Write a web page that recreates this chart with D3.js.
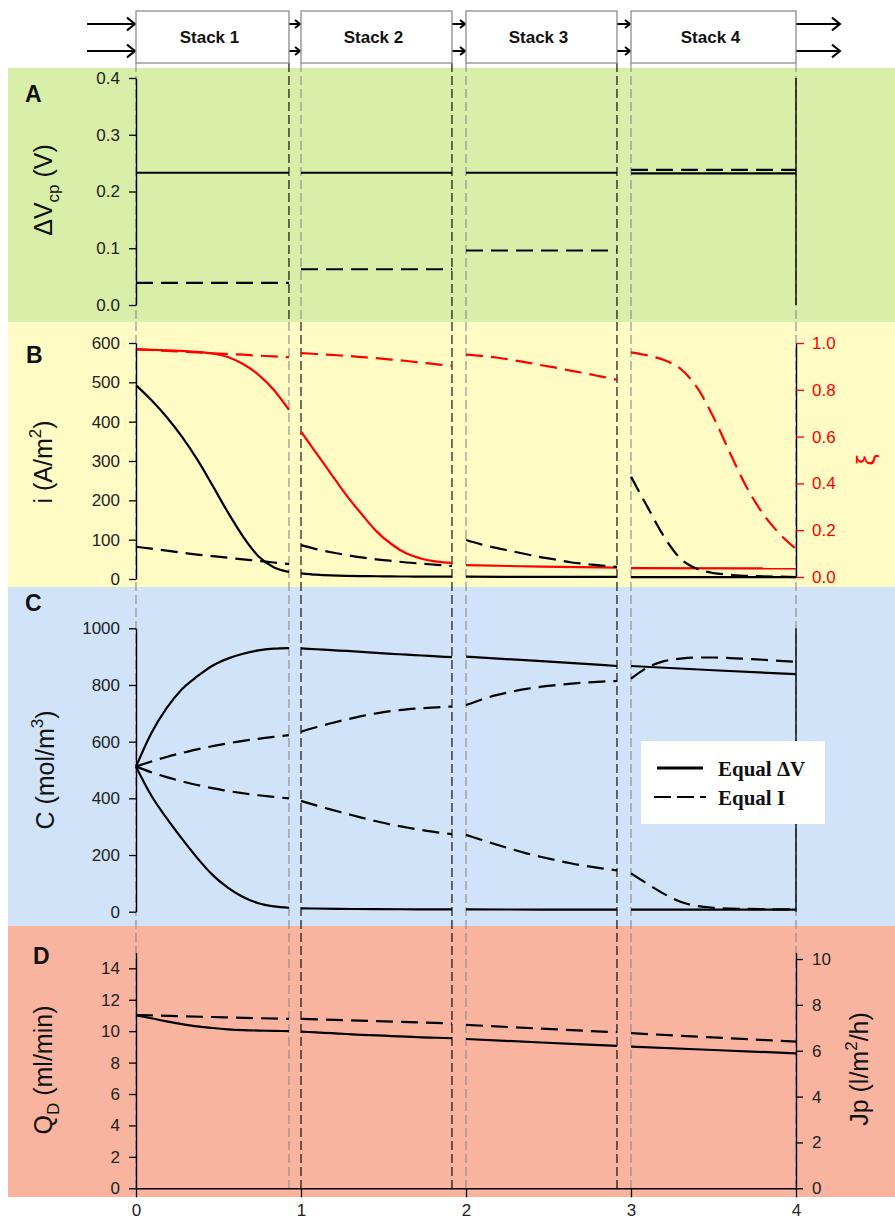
<!DOCTYPE html>
<html><head><meta charset="utf-8">
<script src="https://cdn.jsdelivr.net/npm/d3@7"></script>
<style>html,body{margin:0;padding:0;background:#fff;} svg{display:block;}</style>
</head><body>
<svg id="fig" width="895" height="1222"></svg>
<script>
// ---- stacks in series ----
const stackNames = ["Stack 1", "Stack 2", "Stack 3", "Stack 4"];
const stackStart = [0, 1, 2, 3];
const stackEnd = [0.927, 1.915, 2.915, 4.0];
const xTicks = [0, 1, 2, 3, 4];

// ---- A: cell pair voltage (V), one value per stack ----
const dvEqualDV = [0.233, 0.233, 0.233, 0.232];
const dvEqualI = [0.039, 0.063, 0.096, 0.238];
const dvTicks = [0, 0.1, 0.2, 0.3, 0.4];

// ---- B: current density (A/m2) and ξ, values evenly spaced along each stack ----
const iEqualDV = [
  [493, 455, 412, 362, 304, 238, 170, 108, 58, 30, 18],
  [14.5, 11, 9, 8, 7.5, 7, 6.5, 6.3, 6.1, 6, 6],
  [5.8, 5.5, 5.2],
  [5, 5]
];
const iEqualI = [
  [82, 77, 72, 67, 62, 58, 54, 50, 46, 42, 38],
  [86, 76, 68, 61, 55, 50, 46, 42, 39, 36, 33],
  [99, 88, 79, 71, 63, 55, 49, 42, 38, 34, 31],
  [260, 183, 108, 52, 26, 15, 11, 8, 7, 6, 5]
];
const xiEqualDV = [
  [0.973, 0.971, 0.969, 0.966, 0.962, 0.955, 0.94, 0.91, 0.865, 0.80, 0.714],
  [0.621, 0.53, 0.44, 0.35, 0.27, 0.195, 0.14, 0.10, 0.078, 0.066, 0.06],
  [0.051, 0.044, 0.04],
  [0.038, 0.037]
];
const xiEqualI = [
  [0.973, 0.970, 0.966, 0.963, 0.960, 0.956, 0.953, 0.950, 0.946, 0.943, 0.939],
  [0.957, 0.953, 0.949, 0.945, 0.940, 0.935, 0.929, 0.923, 0.916, 0.909, 0.902],
  [0.95, 0.945, 0.938, 0.928, 0.917, 0.905, 0.894, 0.881, 0.869, 0.856, 0.843],
  [0.96, 0.947, 0.927, 0.89, 0.81, 0.683, 0.53, 0.385, 0.27, 0.185, 0.12]
];
const iTicks = [0, 100, 200, 300, 400, 500, 600];
const xiTicks = [0, 0.2, 0.4, 0.6, 0.8, 1.0];

// ---- C: concentrate / diluate concentration (mol/m3) ----
const cEqualDVconc = [
  [512, 630, 718, 785, 830, 868, 893, 910, 922, 928, 930],
  [929, 926, 923, 920, 917, 913, 910, 907, 904, 901, 898],
  [900, 884, 867],
  [867, 852, 838]
];
const cEqualDVdil = [
  [512, 410, 330, 258, 190, 130, 85, 52, 30, 19, 14],
  [12, 10, 9, 8.5, 8],
  [8, 7.5, 7],
  [7, 7]
];
const cEqualIconc = [
  [512, 530, 546, 560, 573, 584, 594, 603, 610, 617, 623],
  [635, 651, 665, 678, 690, 700, 708, 714, 718, 721, 724],
  [729, 748, 764, 776, 786, 794, 800, 805, 809, 812, 814],
  [822, 862, 884, 893, 897, 897, 895, 892, 889, 885, 882]
];
const cEqualIdil = [
  [512, 492, 475, 460, 447, 436, 426, 418, 411, 405, 400],
  [391, 375, 360, 346, 332, 319, 307, 297, 288, 280, 274],
  [271, 254, 237, 221, 206, 193, 181, 170, 161, 153, 146],
  [135, 98, 63, 35, 20, 14, 11, 10, 9, 8, 8]
];
const cTicks = [0, 200, 400, 600, 800, 1000];

// ---- D: diluate flow (ml/min) ----
const qEqualDV = [
  [11.0, 10.82, 10.62, 10.45, 10.3, 10.2, 10.12, 10.07, 10.04, 10.02, 10.0],
  [9.97, 9.92, 9.87, 9.82, 9.77, 9.73, 9.69, 9.65, 9.61, 9.58, 9.55],
  [9.5, 9.28, 9.06],
  [9.01, 8.8, 8.59]
];
const qEqualI = [
  [11.03, 10.9, 10.78],
  [10.78, 10.64, 10.5],
  [10.4, 10.16, 9.93],
  [9.87, 9.6, 9.33]
];
const qTicks = [0, 2, 4, 6, 8, 10, 12, 14];
const jpTicks = [0, 2, 4, 6, 8, 10];

// ---- separators between stacks ----
const sepPositions = [0, 0.927, 1, 1.915, 2, 2.915, 3, 4];
const sepColorsA = ["#8a8a8a", "#000", "#8a8a8a", "#000", "#8a8a8a", "#000", "#8a8a8a", "#8a8a8a"];
const sepColorsRest = ["#8a8a8a", "#8a8a8a", "#000", "#000", "#8a8a8a", "#000", "#8a8a8a", "#8a8a8a"];

const SANS = "'Liberation Sans', Arial, sans-serif";
const SERIF = "'Liberation Serif', 'Times New Roman', serif";
const RED = "#ff0000";
const DASH = "17,8";

const svg = d3.select("#fig").style("font-family", SANS);
const x = d3.scaleLinear().domain([0, 4]).range([136, 796]);

// panel bands
const bands = [
  {y0: 68, y1: 322, fill: "#d9eea8", letter: "A", lx: 25, ly: 102},
  {y0: 322, y1: 587, fill: "#fefcc4", letter: "B", lx: 26, ly: 363},
  {y0: 587, y1: 926, fill: "#d0e3f8", letter: "C", lx: 25, ly: 611},
  {y0: 926, y1: 1197, fill: "#f9b4a0", letter: "D", lx: 33, ly: 964}
];
svg.selectAll("rect.band").data(bands).join("rect")
  .attr("x", 8).attr("y", d => d.y0).attr("width", 887).attr("height", d => d.y1 - d.y0)
  .attr("fill", d => d.fill);

// dashed separators
sepPositions.forEach((p, k) => {
  svg.append("line").attr("x1", x(p)).attr("x2", x(p)).attr("y1", 63).attr("y2", 322)
    .attr("stroke", sepColorsA[k]).attr("stroke-width", 1.1).attr("stroke-dasharray", "9,4");
  svg.append("line").attr("x1", x(p)).attr("x2", x(p)).attr("y1", 322).attr("y2", 1188)
    .attr("stroke", sepColorsRest[k]).attr("stroke-width", 1.1).attr("stroke-dasharray", "9,4");
});

// top: stacks with flows
const topY = [24, 51];
function arrow(x1, x2, y, head) {
  svg.append("line").attr("x1", x1).attr("x2", x2).attr("y1", y).attr("y2", y)
    .attr("stroke", "#000").attr("stroke-width", 2);
  svg.append("path").attr("d", `M${x2 - head},${y - head * 0.8}L${x2},${y}L${x2 - head},${y + head * 0.8}`)
    .attr("fill", "none").attr("stroke", "#000").attr("stroke-width", 2);
}
topY.forEach(y => {
  arrow(87, x(stackStart[0]) - 1, y, 8);
  for (let k = 0; k < 3; k++) arrow(x(stackEnd[k]), x(stackStart[k + 1]) - 1, y, 5);
  arrow(x(stackEnd[3]), 840, y, 8);
});
stackNames.forEach((name, k) => {
  const x0 = x(stackStart[k]), x1 = x(stackEnd[k]);
  svg.append("rect").attr("x", x0).attr("y", 11).attr("width", x1 - x0).attr("height", 52)
    .attr("fill", "#fff").attr("stroke", "#8c8c8c").attr("stroke-width", 1.3);
  svg.append("text").attr("x", (x0 + x1) / 2 - 3).attr("y", 43).attr("text-anchor", "middle")
    .attr("font-weight", "bold").attr("font-size", 17).attr("fill", "#111").text(name);
});

// panel letters
svg.selectAll("text.letter").data(bands).join("text")
  .attr("x", d => d.lx).attr("y", d => d.ly).attr("font-size", 23).attr("font-weight", "bold")
  .attr("fill", "#111").text(d => d.letter);

// scales per panel
const yA = d3.scaleLinear().domain([0, 0.4]).range([305, 78]);
const yB = d3.scaleLinear().domain([0, 600]).range([579, 343]);
const yBr = d3.scaleLinear().domain([0, 1]).range([577, 343]);
const yC = d3.scaleLinear().domain([0, 1000]).range([911.7, 628.3]);
const yD = d3.scaleLinear().domain([0, 15]).range([1188.3, 952.6]);
const yDr = d3.scaleLinear().domain([0, 10.28]).range([1188.3, 952.6]);

// series along each stack
function stackPoints(values, k) {
  const a = stackStart[k], b = stackEnd[k], n = values.length;
  return values.map((v, i) => [a + (b - a) * (n === 1 ? 0 : i / (n - 1)), v]);
}
function drawSeries(series, yScale, color, dashed) {
  const line = d3.line().x(d => x(d[0])).y(d => yScale(d[1])).curve(d3.curveMonotoneX);
  series.forEach((vals, k) => {
    svg.append("path").attr("d", line(stackPoints(vals, k)))
      .attr("fill", "none").attr("stroke", color).attr("stroke-width", 2.2)
      .attr("stroke-dasharray", dashed ? DASH : null);
  });
}

// A: one flat level per stack
drawSeries(dvEqualDV.map(v => [v, v]), yA, "#000", false);
drawSeries(dvEqualI.map(v => [v, v]), yA, "#000", true);
// B
drawSeries(xiEqualDV, yBr, RED, false);
drawSeries(xiEqualI, yBr, RED, true);
drawSeries(iEqualDV, yB, "#000", false);
drawSeries(iEqualI, yB, "#000", true);
// C
drawSeries(cEqualDVconc, yC, "#000", false);
drawSeries(cEqualDVdil, yC, "#000", false);
drawSeries(cEqualIconc, yC, "#000", true);
drawSeries(cEqualIdil, yC, "#000", true);
// D
drawSeries(qEqualDV, yD, "#000", false);
drawSeries(qEqualI, yD, "#000", true);

// axes
function styleAxis(g, tickColor, textColor) {
  g.select(".domain").attr("stroke", "#000").attr("stroke-width", 1.4);
  g.selectAll(".tick line").attr("stroke", tickColor).attr("stroke-width", 1.3);
  g.selectAll(".tick text").attr("fill", textColor).attr("font-size", 17).attr("font-family", SANS);
}
function leftAxis(scale, ticks, fmt) {
  const g = svg.append("g").attr("transform", "translate(136,0)")
    .call(d3.axisLeft(scale).tickValues(ticks).tickFormat(fmt).tickSize(7).tickSizeOuter(0).tickPadding(9));
  styleAxis(g, "#000", "#222");
}
function rightSpine(scale) {
  svg.append("line").attr("x1", 796).attr("x2", 796)
    .attr("y1", scale.range()[0]).attr("y2", scale.range()[1])
    .attr("stroke", "#000").attr("stroke-width", 1.4);
}
leftAxis(yA, dvTicks, d3.format(".1f"));
rightSpine(yA);
leftAxis(yB, iTicks, d3.format("d"));
const gBr = svg.append("g").attr("transform", "translate(796,0)")
  .call(d3.axisRight(yBr).tickValues(xiTicks).tickFormat(d3.format(".1f")).tickSize(8).tickSizeOuter(0).tickPadding(8));
styleAxis(gBr, RED, RED);
leftAxis(yC, cTicks, d3.format("d"));
rightSpine(yC);
leftAxis(yD, qTicks, d3.format("d"));
const gDr = svg.append("g").attr("transform", "translate(796,0)")
  .call(d3.axisRight(yDr).tickValues(jpTicks).tickFormat(d3.format("d")).tickSize(7).tickSizeOuter(0).tickPadding(9));
styleAxis(gDr, "#000", "#222");
const gX = svg.append("g").attr("transform", "translate(0,1188.3)")
  .call(d3.axisBottom(x).tickValues(xTicks).tickFormat(d3.format("d")).tickSize(9).tickSizeOuter(0).tickPadding(7));
styleAxis(gX, "#000", "#222");

// axis titles (rotated, with sub/superscripts)
function title(cx, cy, parts, color) {
  const t = svg.append("text").attr("transform", `translate(${cx},${cy}) rotate(-90)`)
    .attr("text-anchor", "middle").attr("font-size", 25).attr("fill", color || "#111");
  let shift = 0;
  parts.forEach(p => {
    const target = p.sub ? 7 : p.sup ? -11 : 0;
    t.append("tspan").attr("dy", target - shift).attr("font-size", (p.sub || p.sup) ? 17 : 25).text(p.t);
    shift = target;
  });
}
title(52, 190, [{t: "ΔV"}, {t: "cp", sub: true}, {t: " (V)"}]);
title(52, 462, [{t: "i (A/m"}, {t: "2", sup: true}, {t: ")"}]);
title(875, 460, [{t: "ξ"}], RED);
title(54, 770, [{t: "C (mol/m"}, {t: "3", sup: true}, {t: ")"}]);
title(52, 1070, [{t: "Q"}, {t: "D", sub: true}, {t: " (ml/min)"}]);
title(868, 1069, [{t: "Jp (l/m"}, {t: "2", sup: true}, {t: "/h)"}]);

// legend
const leg = svg.append("g");
leg.append("rect").attr("x", 641).attr("y", 741).attr("width", 184).attr("height", 83).attr("fill", "#fff");
leg.append("line").attr("x1", 657).attr("x2", 703).attr("y1", 768).attr("y2", 768)
  .attr("stroke", "#000").attr("stroke-width", 3);
leg.append("line").attr("x1", 654).attr("x2", 706).attr("y1", 797).attr("y2", 797)
  .attr("stroke", "#000").attr("stroke-width", 2.2).attr("stroke-dasharray", "17,6");
leg.append("text").attr("x", 718).attr("y", 776).attr("font-family", SERIF).attr("font-weight", "bold")
  .attr("font-size", 21).attr("fill", "#111").text("Equal ΔV");
leg.append("text").attr("x", 718).attr("y", 805).attr("font-family", SERIF).attr("font-weight", "bold")
  .attr("font-size", 21).attr("fill", "#111").text("Equal I");
</script>
</body></html>
